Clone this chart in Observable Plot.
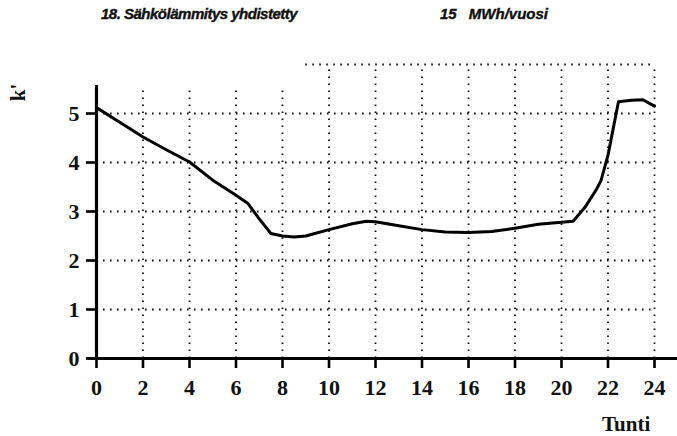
<!DOCTYPE html>
<html><head><meta charset="utf-8">
<script src="https://cdn.jsdelivr.net/npm/d3@7"></script>
<script src="https://cdn.jsdelivr.net/npm/@observablehq/plot@0.6"></script>
<style>
body{margin:0;background:#fff}
#wrap{position:relative;width:677px;height:436px}
.t{position:absolute;font:italic bold 15px "Liberation Sans";top:5px;color:#111;letter-spacing:-0.5px;-webkit-text-stroke:0.4px #111}
.lab{position:absolute;font:bold 21px "Liberation Serif";color:#111}
svg{position:absolute;left:0;top:0}
</style>
</head><body>
<div id="wrap">
<div class="t" style="left:101px">18. Sähkölämmitys yhdistetty</div>
<div class="t" style="left:440px;word-spacing:8px;letter-spacing:0px">15 MWh/vuosi</div>
<div class="lab" style="left:602px;top:412px">Tunti</div>
<div class="lab" style="left:10px;top:80px;transform:rotate(-90deg);transform-origin:center">k'</div>
</div>
<script>
const hours = [0,1,2,3,4,5,6,6.5,7,7.5,8,8.5,9,10,11,11.6,12,13,14,15,16,17,18,19,20,20.5,21,21.5,21.7,22,22.45,23,23.5,24];
const values = [5.12,4.82,4.52,4.26,4.01,3.64,3.33,3.17,2.85,2.55,2.50,2.48,2.50,2.63,2.75,2.80,2.79,2.71,2.63,2.58,2.57,2.59,2.66,2.74,2.78,2.80,3.08,3.45,3.63,4.15,5.24,5.27,5.28,5.15];
const xTicks = [0,2,4,6,8,10,12,14,16,18,20,22,24];
const yTicks = [0,1,2,3,4,5];
const gridY = [1,2,3,4,5];
const gridXLow = [2,4,6,8];
const gridXHigh = [10,12,14,16,18,20,22,24];

const data = hours.map((h,i)=>({h, v: values[i]}));
const dot = {stroke:"#111", strokeWidth:1.8, strokeDasharray:"1.6,5.4"};

const plot = Plot.plot({
  width:677, height:436,
  marginLeft:96, marginRight:23, marginTop:64, marginBottom:78,
  style:{fontFamily:"Liberation Serif", background:"transparent", overflow:"visible"},
  x:{domain:[0,24], axis:null},
  y:{domain:[0,6], axis:null},
  marks:[
    Plot.ruleY(gridY, {x1:0, x2:24, ...dot}),
    Plot.ruleX(gridXLow, {y1:0, y2:5.57, ...dot}),
    Plot.ruleX(gridXHigh, {y1:0, y2:6, ...dot}),
    Plot.ruleY([6], {x1:9, x2:24, ...dot}),
    Plot.line(data, {x:"h", y:"v", stroke:"#000", strokeWidth:3, strokeLinejoin:"round"}),
    Plot.ruleY([0], {x1:-0.35, x2:25.9, stroke:"#000", strokeWidth:3.2}),
    Plot.ruleX([0], {y1:0, y2:5.57, stroke:"#000", strokeWidth:3.2}),
    Plot.axisX(xTicks, {label:null, tickSize:10, tickPadding:11, strokeWidth:2.6, stroke:"#000", fontSize:22, fontWeight:"bold", fill:"#111", tickFormat:d=>String(d)}),
    Plot.axisY(yTicks, {label:null, tickSize:10, tickPadding:7, strokeWidth:2.6, stroke:"#000", fontSize:22, fontWeight:"bold", fill:"#111", tickFormat:d=>String(d)})
  ]
});
document.getElementById("wrap").appendChild(plot);
</script>
</body></html>
